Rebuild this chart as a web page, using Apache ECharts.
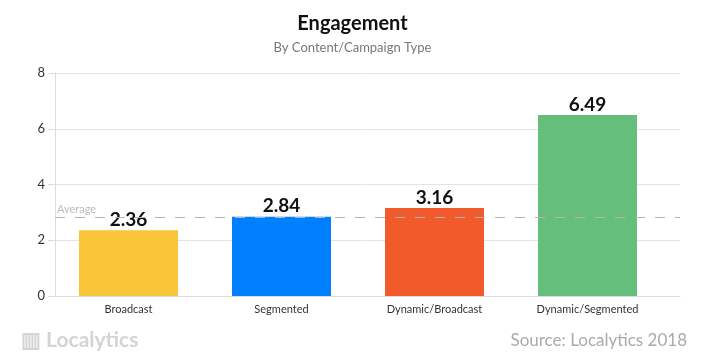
<!DOCTYPE html>
<html><head><meta charset="utf-8">
<script src="https://cdn.jsdelivr.net/npm/echarts@6/dist/echarts.min.js"></script>
<style>html,body{margin:0;padding:0;background:#fff}#c{width:705px;height:361px}</style>
</head><body><div id="c"></div>
<script>
const categories = ['Broadcast', 'Segmented', 'Dynamic/Broadcast', 'Dynamic/Segmented'];
const values = [2.36, 2.84, 3.16, 6.49];
const barColors = ['#F9C63A', '#0080FF', '#F15A2B', '#66BE7D'];
const averageValue = 2.84;
const yTicks = [0, 2, 4, 6, 8];

const chart = echarts.init(document.getElementById('c'));
const font = 'Lato, "Open Sans", sans-serif';
chart.setOption({
  animation: false,
  textStyle: { fontFamily: font },
  title: [
    { text: 'Engagement', left: 'center', top: 9, textStyle: { fontSize: 20, fontWeight: 'bold', color: '#111', fontFamily: font } },
    { text: 'By Content/Campaign Type', left: 'center', top: 36, textStyle: { fontSize: 13, fontWeight: 'normal', color: '#777', fontFamily: font } },
    { text: 'Source: Localytics 2018', right: 13, top: 327, textStyle: { fontSize: 17, fontWeight: 'normal', color: '#aaa', fontFamily: font } },
    { text: '▥ Localytics', left: 16, top: 325, textStyle: { fontSize: 21, fontWeight: 'bold', color: '#d4d4d4', fontFamily: font } }
  ],
  grid: [
    { left: 55, right: 25, top: 73, bottom: 65 },
    { left: 52, right: 41, top: 73, bottom: 65 }
  ],
  xAxis: [
    { type: 'category', gridIndex: 0, data: categories, axisLine: { lineStyle: { color: '#ddd' } }, axisTick: { show: false }, axisLabel: { show: false } },
    { type: 'category', gridIndex: 1, data: categories, axisLine: { show: false }, axisTick: { show: false },
      axisLabel: { color: '#333', fontSize: 11, margin: 8 } }
  ],
  yAxis: [
    { type: 'value', gridIndex: 0, min: yTicks[0], max: yTicks[yTicks.length - 1], interval: 2,
      axisLine: { show: true, lineStyle: { color: '#ddd' } },
      axisTick: { show: true, length: 7, lineStyle: { color: '#ddd' } },
      axisLabel: { color: '#333', fontSize: 13, margin: 10 },
      splitLine: { lineStyle: { color: '#e6e3e3' } } },
    { type: 'value', gridIndex: 1, min: 0, max: 8, show: false, splitLine: { show: false } }
  ],
  series: [
    { type: 'bar', xAxisIndex: 1, yAxisIndex: 1, barWidth: 99,
      data: values.map((v, i) => ({ value: v, itemStyle: { color: barColors[i] } })),
      label: { show: true, position: 'top', distance: 1, color: '#111', fontSize: 19, fontWeight: 'bold', fontFamily: font }
    },
    { type: 'line', xAxisIndex: 0, yAxisIndex: 0, data: [], z: 5,
      markLine: { symbol: 'none', silent: true,
        lineStyle: { type: [10, 10], color: '#b5b5b5', width: 1 },
        label: { show: true, position: 'insideStartTop', formatter: 'Average', color: '#bbb', fontSize: 11, distance: [2, 2] },
        data: [{ yAxis: averageValue }] }
    }
  ]
});
</script></body></html>
